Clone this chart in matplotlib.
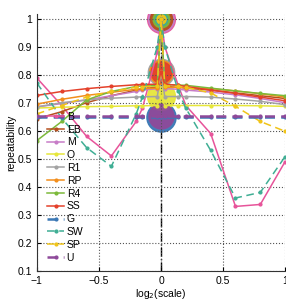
import numpy as np
import matplotlib.pyplot as plt

plt.rcParams['font.family'] = ['Liberation Sans', 'DejaVu Sans']

# log2 of the tested scales
xs = [-1, -0.8, -0.6, -0.4, -0.2, -0.15, -0.03, 0, 0.03, 0.14, 0.2, 0.4, 0.6, 0.8, 1]

names = ['B', 'EB', 'M', 'O', 'R1', 'RP', 'R4', 'SS', 'G', 'SW', 'SP', 'U']

B  = [0.788, 0.69, 0.58, 0.510, 0.633, 0.68, 0.88, 1.0, 0.90, 0.76, 0.69, 0.59, 0.33, 0.337, 0.49]
EB = [0.643, 0.668, 0.700, 0.725, 0.745, 0.750, 0.755, 1.0, 0.757, 0.755, 0.752, 0.745, 0.735, 0.725, 0.715]
M  = [0.685, 0.697, 0.710, 0.725, 0.740, 0.745, 0.750, 1.0, 0.750, 0.748, 0.745, 0.738, 0.728, 0.715, 0.700]
O  = [0.681, 0.684, 0.686, 0.687, 0.689, 0.689, 0.690, 0.725, 0.690, 0.690, 0.690, 0.690, 0.690, 0.689, 0.687]
R1 = [0.685, 0.700, 0.710, 0.716, 0.720, 0.721, 0.722, 0.81, 0.722, 0.722, 0.722, 0.720, 0.713, 0.705, 0.693]
RP = [0.695, 0.712, 0.726, 0.737, 0.748, 0.750, 0.752, 0.81, 0.755, 0.755, 0.754, 0.750, 0.742, 0.732, 0.720]
R4 = [0.565, 0.633, 0.710, 0.740, 0.758, 0.760, 0.762, 1.0, 0.765, 0.763, 0.762, 0.752, 0.742, 0.733, 0.725]
SS = [0.726, 0.740, 0.750, 0.758, 0.764, 0.765, 0.766, 0.81, 0.766, 0.762, 0.758, 0.745, 0.733, 0.720, 0.707]
G  = [0.648] * 15
SW = [0.77, 0.645, 0.54, 0.473, 0.66, 0.72, 0.90, 1.0, 0.90, 0.74, 0.68, 0.53, 0.36, 0.38, 0.508]
SP = [0.66, 0.69, 0.72, 0.74, 0.755, 0.757, 0.76, 1.0, 0.76, 0.758, 0.755, 0.735, 0.687, 0.633, 0.598]
U  = [0.652] * 15

series = [B, EB, M, O, R1, RP, R4, SS, G, SW, SP, U]

colores = ['#e7549a', '#b5501e', '#c77cc7', '#e6e63a', '#a3a3a3', '#f28e1c',
           '#7cb93a', '#e4412b', '#3b78b5', '#3fae94', '#f0c419', '#8e4a9a']
estilos = ['-'] * 8 + ['--'] * 4
# diametro del circulo en x=0 (puntos)
circulos = [20, 16, 18.5, 20, 19, 17, 12, 15, 21, 9, 6.5, 18]

fig = plt.figure(figsize=(2.86, 3.0), dpi=100)
ax = fig.add_axes([0.129, 0.097, 0.868, 0.855])

ax.axvline(0, color='k', linestyle='-.', linewidth=1, zorder=0.5)

# circulos grandes en escala 1 (los mas grandes detras)
orden = np.argsort(circulos)[::-1]
for k, i in enumerate(orden):
    ax.plot([0], [series[i][7]], 'o', color=colores[i], markersize=circulos[i],
            alpha=0.95, zorder=1 + k * 0.01)

for i in range(len(series)):
    lw = 1.8 if names[i] in ('G', 'U') else 1.1
    ln, = ax.plot(xs, series[i], estilos[i], color=colores[i], linewidth=lw,
                  marker='.', markersize=4, label=names[i], zorder=2 + (1 if names[i] in ('G', 'U') else 0))
    if estilos[i] == '--':
        ln.set_dashes((4, 2.5) if names[i] in ('G', 'U') else (5, 3))

ax.set_xlim(-1, 1)
ax.set_ylim(0.1, 1.015)
ax.set_xticks([-1, -0.5, 0, 0.5, 1])
ax.set_xticklabels(['\u22121', '\u22120.5', '0', '0.5', '1'])
ax.set_yticks(np.arange(0.1, 1.01, 0.1))
ax.set_yticklabels(['0.1', '0.2', '0.3', '0.4', '0.5', '0.6', '0.7', '0.8', '0.9', '1'])
ax.grid(True, linestyle=':', color='#555555', linewidth=0.8)
ax.tick_params(direction='in', labelsize=7.5, length=3)
for s in ['top', 'right']:
    ax.spines[s].set_visible(False)
ax.spines['left'].set_color('#333333')
ax.spines['bottom'].set_color('#333333')

ax.set_xlabel('log$_2$(scale)', fontsize=7.5, labelpad=1)
ax.set_ylabel('repeatability', fontsize=7.5, labelpad=1)

ax.legend(loc='lower left', bbox_to_anchor=(0.03, 0.02), frameon=False, fontsize=7.5,
          handlelength=1.6, handletextpad=0.25, labelspacing=0.27, borderaxespad=0,
          borderpad=0.3)

fig.savefig('out.png', dpi=100)
